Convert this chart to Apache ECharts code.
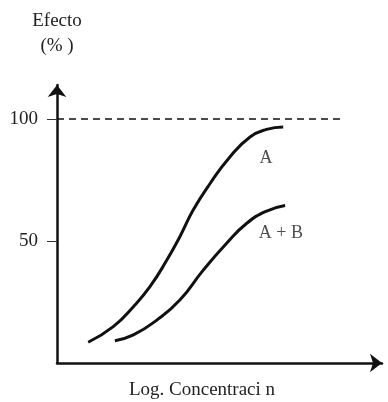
<!DOCTYPE html>
<html>
<head>
<meta charset="utf-8">
<script src="https://cdn.jsdelivr.net/npm/echarts@6/dist/echarts.min.js"></script>
<style>
  html, body { margin: 0; padding: 0; background: #fff; }
  #chart { width: 388px; height: 402px; }
</style>
</head>
<body>
<div id="chart"></div>
<script>
// Dose-response curves: effect (%) against log concentration
const logConcA = [0.96, 1.73, 2.35, 2.86, 3.38, 3.78, 4.19, 4.71, 5.32, 5.94, 6.45, 6.96];
const effectA  = [8.5, 14.9, 23.1, 31.3, 42.2, 51.8, 62.7, 73.6, 84.5, 92.7, 95.8, 96.8];
const logConcAB = [1.78, 2.35, 3.07, 3.78, 4.50, 5.22, 5.84, 6.45, 7.02];
const effectAB  = [9.1, 11.5, 17.6, 25.8, 38.1, 49.1, 57.3, 62.3, 64.6];
const yTicks = [50, 100];
const maxEffect = 100;
const maxLineEnd = 8.77;
const curveNames = ['A', 'A + B'];
const curveLabelPos = [[6.43, 84], [6.89, 53]];

const font = 'Liberation Serif, Times New Roman, serif';
const pair = (xs, ys) => xs.map((x, i) => [x, ys[i]]);

const chart = echarts.init(document.getElementById('chart'), null, { renderer: 'canvas' });

const curveStyle = { color: '#111', width: 3 };

chart.setOption({
  animation: false,
  backgroundColor: '#fff',
  grid: { left: 57, right: 6, top: 85, bottom: 39, containLabel: false, outerBoundsMode: 'none' },
  xAxis: {
    type: 'value', min: 0, max: 10,
    name: 'Log. Concentraci n',
    nameLocation: 'middle', nameGap: 18,
    nameTextStyle: { fontFamily: font, fontSize: 19, color: '#222', padding: [0, 35, 0, 0] },
    axisLine: { show: true, symbol: ['none', 'arrow'], symbolSize: [14, 12], lineStyle: { color: '#111', width: 2.5 } },
    axisTick: { show: false }, axisLabel: { show: false }, splitLine: { show: false }
  },
  yAxis: {
    type: 'value', min: 0, max: 114,
    name: 'Efecto\n(% )',
    nameLocation: 'end', nameGap: 26,
    nameTextStyle: { fontFamily: font, fontSize: 19, color: '#222', lineHeight: 25, align: 'center' },
    axisLine: { show: true, symbol: ['none', 'arrow'], symbolSize: [14, 12], lineStyle: { color: '#111', width: 2.5 } },
    axisTick: { show: true, length: 10, customValues: yTicks, lineStyle: { color: '#333', width: 1 } },
    axisLabel: { show: true, customValues: yTicks, margin: 19, fontFamily: font, fontSize: 19, color: '#222' },
    splitLine: { show: false }
  },
  series: [
    {
      type: 'line', name: curveNames[0], data: pair(logConcA, effectA),
      smooth: true, showSymbol: false,
      lineStyle: curveStyle,
      markLine: {
        silent: true, symbol: ['none', 'none'],
        lineStyle: { color: '#111', width: 1.5, type: [7, 5] },
        label: { show: false },
        data: [[{ coord: [0, maxEffect] }, { coord: [maxLineEnd, maxEffect] }]]
      }
    },
    {
      type: 'line', name: curveNames[1], data: pair(logConcAB, effectAB),
      smooth: true, showSymbol: false,
      lineStyle: curveStyle
    },
    {
      // curve name tags
      type: 'scatter', silent: true, symbolSize: 1,
      itemStyle: { color: 'rgba(0,0,0,0)' },
      data: curveLabelPos.map((p, i) => ({ value: p, name: curveNames[i] })),
      label: {
        show: true, position: 'inside', formatter: (p) => p.name,
        color: '#222', fontFamily: font, fontSize: 18
      }
    }
  ]
});
</script>
</body>
</html>
